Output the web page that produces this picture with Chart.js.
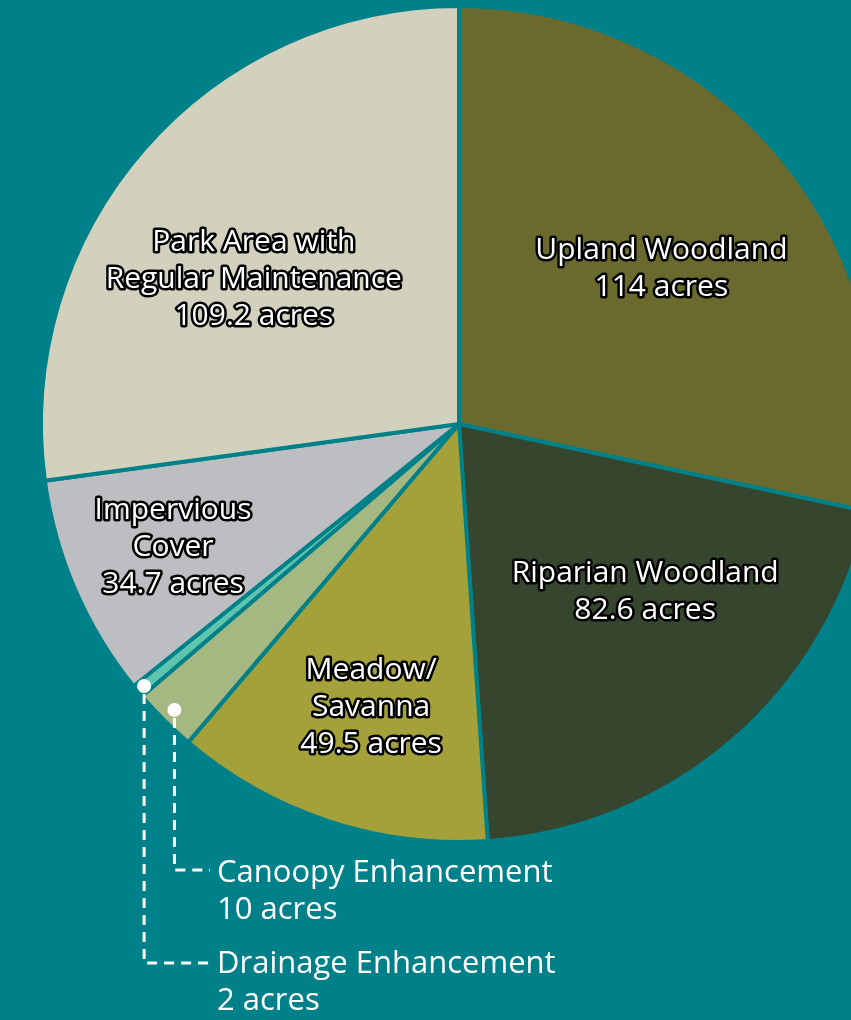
<!DOCTYPE html>
<html>
<head>
<meta charset="utf-8">
<script src="https://cdn.jsdelivr.net/npm/chart.js@4.4.1/dist/chart.umd.min.js"></script>
<style>
  html, body { margin: 0; padding: 0; background: #00818a; overflow: hidden; }
  #wrap { position: absolute; left: 0; top: 0; }
</style>
</head>
<body>
<div id="wrap"><canvas id="landChart" width="918" height="1020"></canvas></div>
<script>
// Land cover by type, in acres (clockwise from 12 o'clock)
const categories = ['Upland Woodland', 'Riparian Woodland', 'Meadow/Savanna', 'Canoopy Enhancement',
                    'Drainage Enhancement', 'Impervious Cover', 'Park Area with Regular Maintenance'];
const acres = [114, 82.6, 49.5, 10, 2, 34.7, 109.2];
const labelLines = [
    ['Upland Woodland'],
    ['Riparian Woodland'],
    ['Meadow/', 'Savanna'],
    ['Canoopy Enhancement'],
    ['Drainage Enhancement'],
    ['Impervious', 'Cover'],
    ['Park Area with', 'Regular Maintenance']
];

const bgColor = '#00818a';
const sliceColors = ['#6b6a2e', '#36452d', '#a4a13a', '#a5b882', '#5fc4ae', '#bdbec1', '#d2d1bd'];

// inside labels: radius fraction + angle nudge (deg); null = callout below the pie
const inside = [
    { r: 0.61, da: 1.5 },
    { r: 0.60, da: -7 },
    { r: 0.71, da: -1 },
    null,
    null,
    { r: 0.745, da: 0 },
    { r: 0.60, da: -6 }
];
// callouts: dot radius fraction, elbow y, text position
const callouts = {
    3: { r: 0.965, elbowY: 870, textX: 217, textY: 873 },
    4: { r: 0.98, elbowY: 963, textX: 217, textY: 964 }
};

const lineH = 37;
const fmt = v => v + ' acres';

const labelPlugin = {
    id: 'sliceLabels',
    afterDraw(chart) {
        const ctx = chart.ctx;
        const arcs = chart.getDatasetMeta(0).data;
        ctx.save();
        ctx.textAlign = 'center';
        ctx.textBaseline = 'middle';
        ctx.lineJoin = 'round';

        arcs.forEach((arc, i) => {
            const p = arc.getProps(['x', 'y', 'startAngle', 'endAngle', 'outerRadius'], true);
            const mid = (p.startAngle + p.endAngle) / 2;
            const lines = labelLines[i].concat(fmt(acres[i]));

            if (inside[i]) {
                const a = mid + inside[i].da * Math.PI / 180;
                const rr = p.outerRadius * inside[i].r;
                const cx = p.x + Math.cos(a) * rr;
                const cy = p.y + Math.sin(a) * rr;
                const y0 = cy - (lines.length - 1) * lineH / 2;
                ctx.font = '500 30px "Open Sans"';
                lines.forEach((t, k) => {
                    ctx.lineWidth = 5;
                    ctx.strokeStyle = '#000';
                    ctx.strokeText(t, cx, y0 + k * lineH);
                    ctx.fillStyle = '#fff';
                    ctx.fillText(t, cx, y0 + k * lineH);
                });
            } else {
                const c = callouts[i];
                const dx = p.x + Math.cos(mid) * p.outerRadius * c.r;
                const dy = p.y + Math.sin(mid) * p.outerRadius * c.r;
                // dashed leader down and across to the text
                ctx.strokeStyle = '#fff';
                ctx.lineWidth = 3;
                ctx.setLineDash([10, 7]);
                ctx.beginPath();
                ctx.moveTo(dx, dy + 8);
                ctx.lineTo(dx, c.elbowY);
                ctx.lineTo(c.textX - 7, c.elbowY);
                ctx.stroke();
                ctx.setLineDash([]);
                ctx.fillStyle = '#fff';
                ctx.beginPath();
                ctx.arc(dx, dy, 7, 0, Math.PI * 2);
                ctx.fill();
                ctx.textAlign = 'left';
                ctx.font = '400 31px "Open Sans"';
                lines.forEach((t, k) => ctx.fillText(t, c.textX, c.textY + k * lineH));
                ctx.textAlign = 'center';
            }
        });
        ctx.restore();
    }
};

new Chart(document.getElementById('landChart'), {
    type: 'pie',
    data: {
        labels: categories,
        datasets: [{
            data: acres,
            backgroundColor: sliceColors,
            borderColor: bgColor,
            borderWidth: 4
        }]
    },
    options: {
        responsive: false,
        animation: false,
        layout: { padding: { top: 4, left: 39, right: 39, bottom: 176 } },
        plugins: {
            legend: { display: false },
            tooltip: { enabled: false }
        }
    },
    plugins: [labelPlugin]
});
</script>
</body>
</html>
